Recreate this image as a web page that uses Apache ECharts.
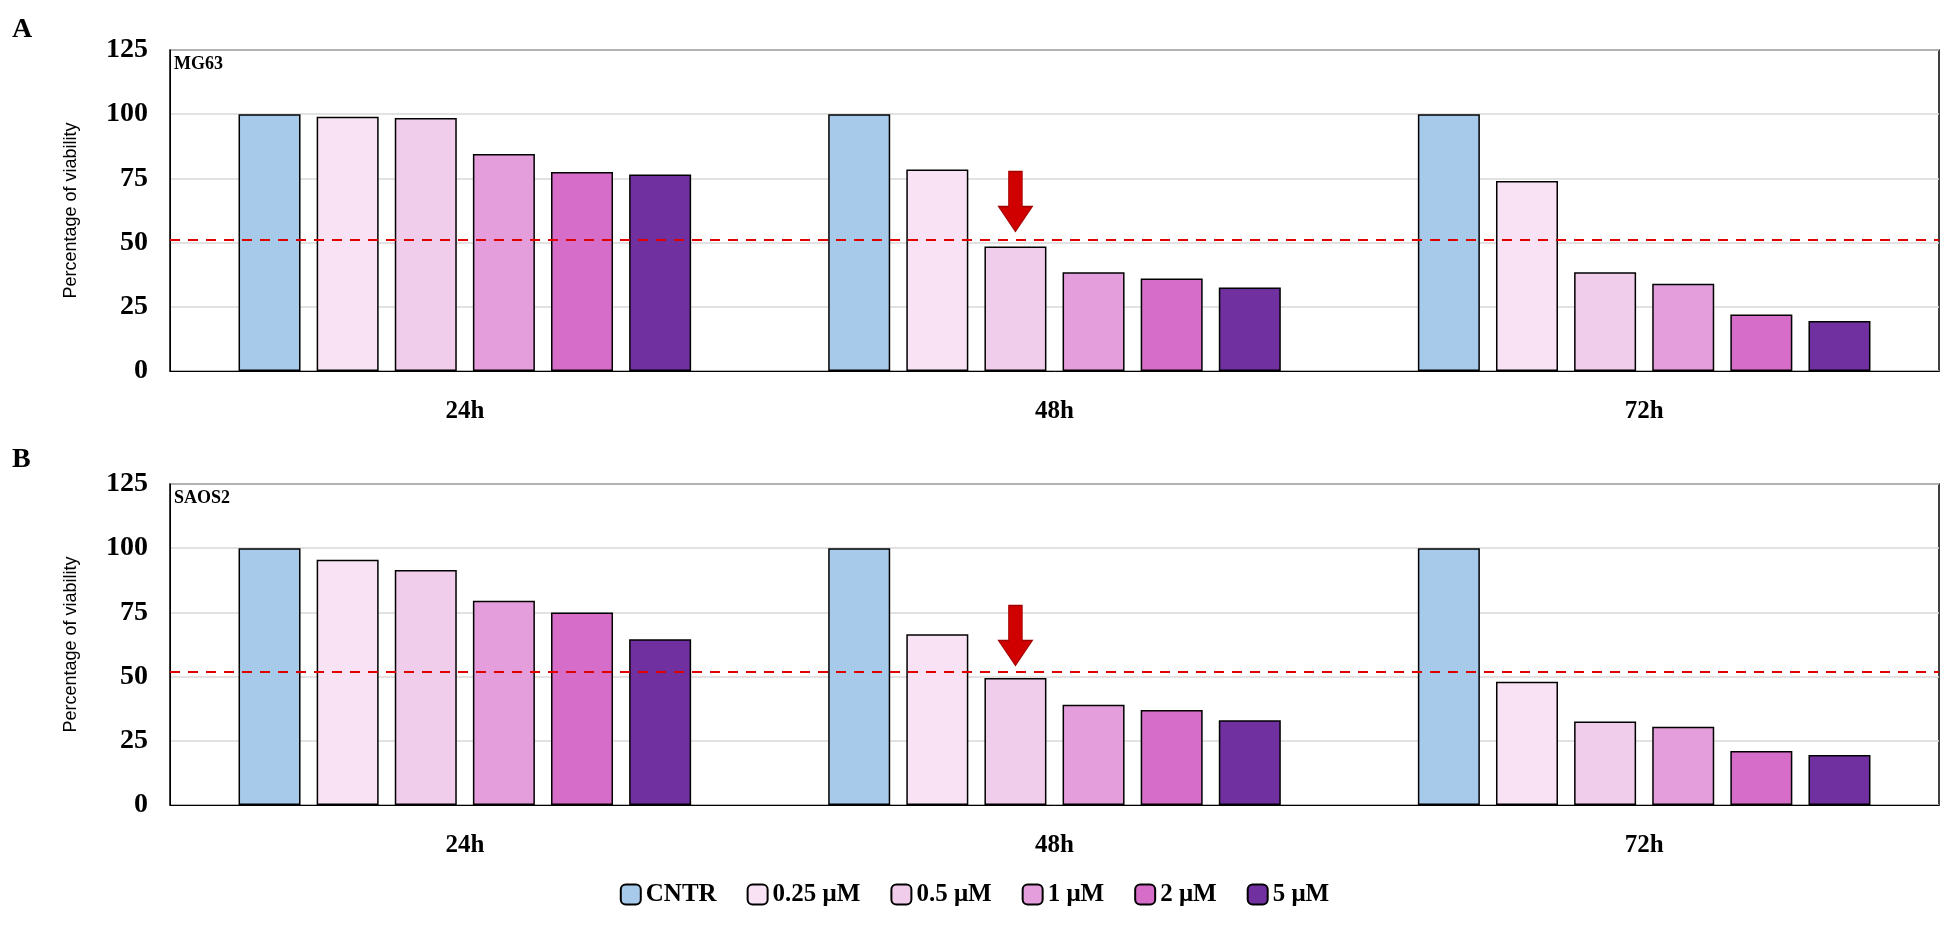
<!DOCTYPE html>
<html><head><meta charset="utf-8">
<script src="https://cdn.jsdelivr.net/npm/echarts@6/dist/echarts.min.js"></script>
<style>html,body{margin:0;background:#fff}#c{width:1949px;height:934px}</style>
</head><body><div id="c"></div>
<script>
var times = ['24h', '48h', '72h'];
var doses = ['CNTR', '0.25 μM', '0.5 μM', '1 μM', '2 μM', '5 μM'];
var colors = ['#a8caea', '#f8e2f4', '#f1cdec', '#e39edb', '#d66dc8', '#7030a0'];
var yTicks = [0, 25, 50, 75, 100, 125];
// rows = dose, columns = 24h/48h/72h
var mg63 = [
  [100, 100, 100],
  [99, 78.5, 74],
  [98.5, 48.5, 38.5],
  [84.5, 38.5, 34],
  [77.5, 36, 22],
  [76.5, 32.5, 19.5]
];
var saos2 = [
  [100, 100, 100],
  [95.5, 66.5, 48],
  [91.5, 49.5, 32.5],
  [79.5, 39, 30.5],
  [75, 37, 21],
  [64.5, 33, 19.5]
];
var ic50 = [51.3, 51.7];

var serif = '"Liberation Serif","Times New Roman",serif';
var chart = echarts.init(document.getElementById('c'));

var grids = [
  {left: 170, right: 10, top: 50, height: 321, show: true, borderColor: '#000', borderWidth: 1.5},
  {left: 170, right: 10, top: 484, height: 321, show: true, borderColor: '#000', borderWidth: 1.5}
];
var xAxes = [0, 1].map(function (i) {
  return {type: 'category', gridIndex: i, data: times, axisTick: {show: false},
    axisLine: {lineStyle: {color: '#000'}},
    axisLabel: {fontFamily: serif, fontWeight: 'bold', fontSize: 25, color: '#000', margin: 28}};
});
var yAxes = [0, 1].map(function (i) {
  return {type: 'value', gridIndex: i, min: 0, max: 125, interval: 25,
    name: 'Percentage of viability', nameLocation: 'middle', nameGap: 90,
    nameTextStyle: {fontFamily: 'Arial, "Liberation Sans"', fontSize: 18, color: '#000'},
    axisLine: {show: true, lineStyle: {color: '#000'}}, axisTick: {show: false},
    splitLine: {lineStyle: {color: '#d9d9d9', width: 1.5}},
    axisLabel: {fontFamily: serif, fontWeight: 'bold', fontSize: 28, color: '#000', margin: 22}};
});

var arrowPath = 'path://M3,0 L7,0 L7,7 L10,7 L5,12 L0,7 L3,7 Z';
var series = [];
[mg63, saos2].forEach(function (data, g) {
  doses.forEach(function (d, k) {
    var s = {name: d, type: 'bar', xAxisIndex: g, yAxisIndex: g, data: data[k],
      barWidth: 62, barGap: '26%',
      itemStyle: {color: colors[k], borderColor: '#000', borderWidth: 1.5}};
    if (k === 0) {
      s.markLine = {silent: true, symbol: 'none', label: {show: false},
        lineStyle: {color: '#e00000', type: [10, 8], width: 2.2},
        data: [{yAxis: ic50[g]}]};
    }
    if (k === 2) {
      s.markPoint = {silent: true, symbol: arrowPath, symbolSize: [34, 60],
        itemStyle: {color: '#d00000', borderColor: '#a00000', borderWidth: 1},
        label: {show: false}, data: [{coord: ['48h', 66]}]};
    }
    series.push(s);
  });
});

chart.setOption({
  animation: false,
  grid: grids, xAxis: xAxes, yAxis: yAxes, series: series,
  legend: {data: doses, bottom: 22, left: 'center', itemWidth: 20, itemHeight: 20, itemGap: 30,
    textStyle: {fontFamily: serif, fontWeight: 'bold', fontSize: 25, color: '#000'}},
  graphic: [
    {type: 'text', left: 12, top: 16, style: {text: 'A', font: 'bold 28px ' + serif, fill: '#000'}},
    {type: 'text', left: 12, top: 446, style: {text: 'B', font: 'bold 28px ' + serif, fill: '#000'}},
    {type: 'text', left: 174, top: 55, style: {text: 'MG63', font: 'bold 18px ' + serif, fill: '#000'}},
    {type: 'text', left: 174, top: 489, style: {text: 'SAOS2', font: 'bold 18px ' + serif, fill: '#000'}}
  ]
});
</script></body></html>
